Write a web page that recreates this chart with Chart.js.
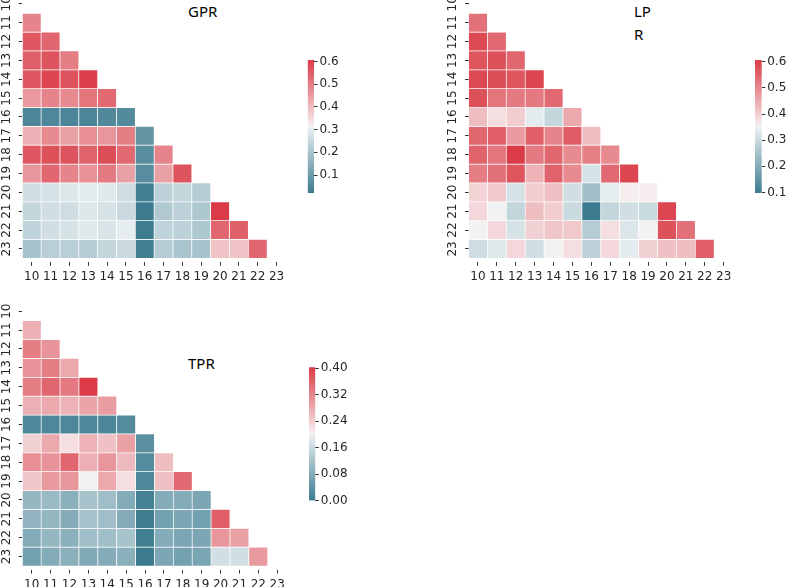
<!DOCTYPE html>
<html>
<head>
<meta charset="utf-8">
<script src="https://cdn.jsdelivr.net/npm/chart.js@4.4.1/dist/chart.umd.min.js"></script>
<style>
  html, body { margin: 0; padding: 0; background: #fff; }
  #page { position: relative; width: 790px; height: 587px; overflow: hidden; }
  #page canvas { position: absolute; }
  .ttl { position: absolute; font: 15px "Noto Sans", sans-serif; color: #000; line-height: 23.4px; white-space: pre; }
</style>
</head>
<body>
<div id="page">
  <div class="ttl" style="left:188px;top:0px">GPR</div>
  <div class="ttl" style="left:634px;top:0px">LP
R</div>
  <div class="ttl" style="left:188px;top:351.7px">TPR</div>
</div>
<script>
const cols = ["10", "11", "12", "13", "14", "15", "16", "17", "18", "19", "20", "21", "22", "23"];
const rowNums = [10, 11, 12, 13, 14, 15, 16, 17, 18, 19, 20, 21, 22, 23];

// lower triangle: rows 11..23, columns 10..row-1
const gpr = [
  [0.49],
  [0.56, 0.537],
  [0.548, 0.566, 0.501],
  [0.56, 0.589, 0.566, 0.6],
  [0.455, 0.49, 0.478, 0.513, 0.531],
  [0.045, 0.05, 0.045, 0.045, 0.055, 0.06],
  [0.42, 0.478, 0.443, 0.472, 0.46, 0.501, 0.085],
  [0.56, 0.572, 0.566, 0.542, 0.578, 0.531, 0.065, 0.49],
  [0.46, 0.537, 0.49, 0.466, 0.507, 0.443, 0.065, 0.443, 0.566],
  [0.267, 0.273, 0.285, 0.296, 0.291, 0.261, 0.03, 0.232, 0.244, 0.22],
  [0.244, 0.267, 0.261, 0.285, 0.273, 0.255, 0.021, 0.214, 0.232, 0.209, 0.607],
  [0.238, 0.267, 0.273, 0.291, 0.279, 0.302, 0.025, 0.238, 0.232, 0.209, 0.537, 0.548],
  [0.197, 0.226, 0.226, 0.22, 0.244, 0.255, 0.03, 0.22, 0.203, 0.197, 0.39, 0.39, 0.537]
];

const lpr = [
  [0.531],
  [0.587, 0.541],
  [0.571, 0.576, 0.546],
  [0.587, 0.582, 0.571, 0.592],
  [0.576, 0.526, 0.52, 0.52, 0.541],
  [0.424, 0.378, 0.403, 0.337, 0.291, 0.454],
  [0.546, 0.556, 0.475, 0.556, 0.505, 0.561, 0.424],
  [0.551, 0.526, 0.607, 0.52, 0.546, 0.495, 0.51, 0.495],
  [0.515, 0.531, 0.571, 0.439, 0.551, 0.495, 0.317, 0.541, 0.592],
  [0.393, 0.408, 0.317, 0.403, 0.419, 0.312, 0.241, 0.342, 0.358, 0.358],
  [0.388, 0.353, 0.291, 0.424, 0.403, 0.302, 0.098, 0.291, 0.312, 0.302, 0.592],
  [0.353, 0.388, 0.317, 0.398, 0.414, 0.408, 0.271, 0.378, 0.327, 0.353, 0.576, 0.531],
  [0.307, 0.332, 0.388, 0.312, 0.353, 0.378, 0.281, 0.388, 0.337, 0.398, 0.419, 0.424, 0.556]
];

const tpr = [
  [0.274],
  [0.33, 0.306],
  [0.306, 0.33, 0.282],
  [0.33, 0.355, 0.334, 0.403],
  [0.274, 0.282, 0.27, 0.286, 0.294],
  [0.02, 0.02, 0.02, 0.02, 0.018, 0.028],
  [0.238, 0.282, 0.222, 0.27, 0.254, 0.29, 0.036],
  [0.31, 0.306, 0.355, 0.274, 0.302, 0.262, 0.028, 0.258],
  [0.25, 0.298, 0.302, 0.2, 0.282, 0.222, 0.022, 0.254, 0.351],
  [0.101, 0.105, 0.089, 0.121, 0.113, 0.081, 0.01, 0.081, 0.081, 0.073],
  [0.097, 0.101, 0.081, 0.121, 0.113, 0.081, 0.004, 0.064, 0.073, 0.064, 0.363],
  [0.081, 0.101, 0.089, 0.113, 0.113, 0.121, 0.006, 0.081, 0.073, 0.073, 0.302, 0.29],
  [0.064, 0.081, 0.089, 0.077, 0.081, 0.089, 0, 0.073, 0.064, 0.069, 0.169, 0.169, 0.298]
];

const gprTicks = [0.1, 0.2, 0.3, 0.4, 0.5, 0.6];
const lprTicks = [0.1, 0.2, 0.3, 0.4, 0.5, 0.6];
const tprTicks = [0, 0.08, 0.16, 0.24, 0.32, 0.4];

// diverging blue -> light gray -> red
const cm = [
  [0, [60, 123, 143]],
  [0.49, [234, 240, 242]],
  [0.5, [242, 242, 242]],
  [0.51, [246, 237, 238]],
  [1, [218, 59, 70]]
];
const font = { family: "DejaVu Sans", size: 12 };
const txt = "#262626";
const tickCol = "#333";

function cmap(t) {
  t = Math.max(0, Math.min(1, t));
  for (let i = 1; i < cm.length; i++) {
    const [t1, c1] = cm[i];
    const [t0, c0] = cm[i - 1];
    if (t <= t1) {
      const f = (t - t0) / (t1 - t0);
      const c = c0.map((v, k) => Math.round(v + (c1[k] - v) * f));
      return `rgb(${c.join(",")})`;
    }
  }
  return `rgb(${cm[cm.length - 1][1].join(",")})`;
}

function addCanvas(box) {
  const c = document.createElement("canvas");
  c.width = box.w;
  c.height = box.h;
  c.style.left = box.x + "px";
  c.style.top = box.y + "px";
  document.getElementById("page").appendChild(c);
  return c;
}

// plot: cell area in page px; gap = space between cells and x tick marks
function heatmap(box, plot, rows, gap) {
  const flat = rows.flat();
  const vmin = Math.min(...flat), vmax = Math.max(...flat);
  const pitch = (plot.b - plot.t) / rowNums.length;
  const datasets = rows.map((vals, i) => {
    const r = rowNums[i + 1];
    return {
      data: cols.map((c, j) => (j < vals.length ? [r - 0.5, r + 0.5] : null)),
      backgroundColor: cols.map((c, j) => (j < vals.length ? cmap((vals[j] - vmin) / (vmax - vmin)) : "rgba(0,0,0,0)"))
    };
  });
  new Chart(addCanvas(box), {
    type: "bar",
    data: { labels: cols, datasets },
    options: {
      responsive: false,
      animation: false,
      events: [],
      layout: { padding: { top: plot.t - box.y, right: box.x + box.w - plot.r, left: 0, bottom: 0 } },
      datasets: { bar: { grouped: false, barPercentage: 1, categoryPercentage: 1, borderWidth: 0.7, borderColor: "#fff", borderSkipped: false } },
      plugins: { legend: { display: false }, tooltip: { enabled: false } },
      scales: {
        x: {
          type: "category",
          offset: true,
          grid: { offset: false, drawOnChartArea: false, tickLength: 3.5, color: tickCol },
          border: { display: false },
          ticks: { font, color: txt, padding: 4, maxRotation: 0, autoSkip: false },
          afterFit: (s) => { s.height = box.y + box.h - plot.b - gap; }
        },
        y: {
          type: "linear",
          reverse: true,
          min: 9.5,
          max: 23.5 + gap / pitch,
          afterBuildTicks: (s) => { s.ticks = rowNums.map((v) => ({ value: v })); },
          grid: { drawOnChartArea: false, tickLength: 3.5, color: tickCol },
          border: { display: false },
          ticks: { font, color: txt, minRotation: 90, maxRotation: 90, crossAlign: "center", padding: 4, autoSkip: false },
          afterFit: (s) => { s.width = plot.l - box.x; }
        }
      }
    }
  });
  return [vmin, vmax];
}

function gradient(chart, vmin, vmax) {
  const y = chart.scales.y;
  const y0 = y ? y.getPixelForValue(vmin) : NaN;
  const y1 = y ? y.getPixelForValue(vmax) : NaN;
  if (!isFinite(y0) || !isFinite(y1)) return cmap(0.5);
  const g = chart.ctx.createLinearGradient(0, y0, 0, y1);
  cm.forEach(([t, c]) => g.addColorStop(t, `rgb(${c.join(",")})`));
  return g;
}

function colorbar(box, plot, range, ticks, digits) {
  const [vmin, vmax] = range;
  new Chart(addCanvas(box), {
    type: "bar",
    data: {
      labels: [""],
      datasets: [{
        data: [[vmin, vmax]],
        backgroundColor: (ctx) => gradient(ctx.chart, vmin, vmax),
        barPercentage: 1,
        categoryPercentage: 1,
        borderWidth: 0
      }]
    },
    options: {
      responsive: false,
      animation: false,
      events: [],
      layout: { padding: { left: plot.l - box.x, top: plot.t - box.y, bottom: box.y + box.h - plot.b, right: 0 } },
      plugins: { legend: { display: false }, tooltip: { enabled: false } },
      scales: {
        x: { display: false },
        y: {
          position: "right",
          min: vmin,
          max: vmax,
          afterBuildTicks: (s) => { s.ticks = ticks.map((v) => ({ value: v })); },
          ticks: { font, color: txt, padding: 2, callback: (v) => Number(v).toFixed(digits) },
          grid: { drawOnChartArea: false, tickLength: 3.5, color: tickCol },
          border: { display: false },
          afterFit: (s) => { s.width = box.x + box.w - plot.r; }
        }
      }
    }
  });
}

const gprRange = heatmap({ x: -2, y: -42, w: 302, h: 336 }, { l: 22.3, r: 286, t: -5.55, b: 258.3 }, gpr, 4);
const lprRange = heatmap({ x: 443, y: -42, w: 302, h: 336 }, { l: 468.5, r: 733.1, t: -5.55, b: 258.3 }, lpr, 4);
const tprRange = heatmap({ x: -2, y: 258, w: 302, h: 329 }, { l: 22.3, r: 286.6, t: 301.8, b: 566 }, tpr, 4);

colorbar({ x: 300, y: 45, w: 60, h: 160 }, { l: 307.7, r: 314, t: 60, b: 193 }, gprRange, gprTicks, 1);
colorbar({ x: 748, y: 45, w: 42, h: 160 }, { l: 755, r: 761.7, t: 60, b: 193 }, lprRange, lprTicks, 1);
colorbar({ x: 300, y: 352, w: 70, h: 165 }, { l: 309, r: 315.3, t: 367.3, b: 500.7 }, tprRange, tprTicks, 2);
</script>
</body>
</html>
